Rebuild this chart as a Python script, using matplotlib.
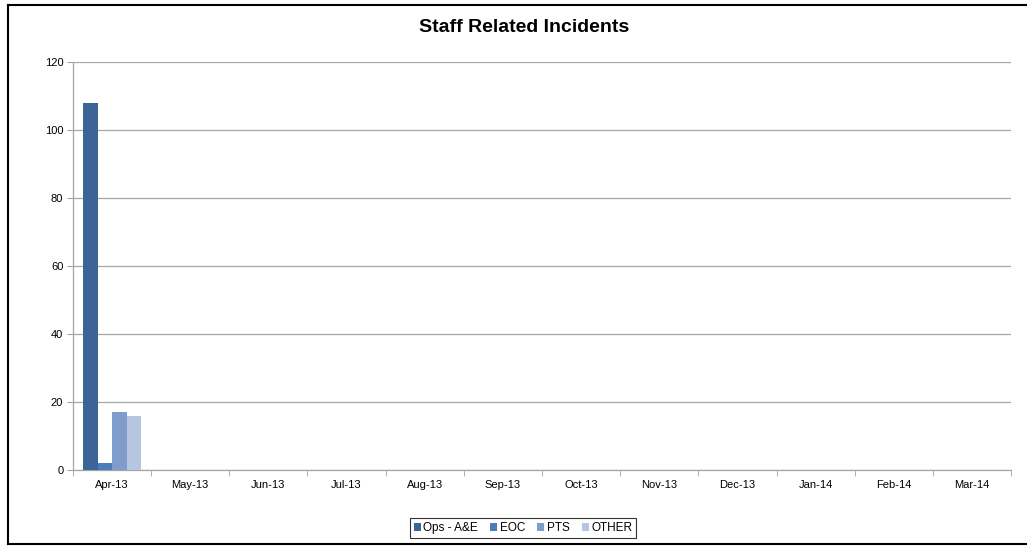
import matplotlib
matplotlib.use("Agg")
import matplotlib.pyplot as plt
import numpy as np
from matplotlib.lines import Line2D

plt.rcParams['font.family'] = ['Liberation Sans', 'DejaVu Sans']

months = ["Apr-13", "May-13", "Jun-13", "Jul-13", "Aug-13", "Sep-13",
          "Oct-13", "Nov-13", "Dec-13", "Jan-14", "Feb-14", "Mar-14"]
series_names = ["Ops - A&E", "EOC", "PTS", "OTHER"]
ops_ae = [108, 0, 0, 0, 0, 0, 0, 0, 0, 0, 0, 0]
eoc = [2, 0, 0, 0, 0, 0, 0, 0, 0, 0, 0, 0]
pts = [17, 0, 0, 0, 0, 0, 0, 0, 0, 0, 0, 0]
other = [16, 0, 0, 0, 0, 0, 0, 0, 0, 0, 0, 0]
yticks = [0, 20, 40, 60, 80, 100, 120]
colors = ["#3C6496", "#4A7EBB", "#7F9DCB", "#B6C5E1"]
title = "Staff Related Incidents"

fig = plt.figure(figsize=(10.27, 5.46), dpi=100)
ax = fig.add_axes([73/1027, 1-470/546, (1011-73)/1027, (470-62)/546])

x = np.arange(len(months))
n = len(series_names)
bw = 0.74 / n
for i, (name, vals) in enumerate(zip(series_names, [ops_ae, eoc, pts, other])):
    ax.bar(x - 0.37 + bw*(i+0.5), vals, width=bw, color=colors[i], label=name, zorder=3)

ax.set_xlim(-0.5, len(months)-0.5)
ax.set_ylim(0, 120)
ax.set_yticks(yticks)
ax.set_yticklabels([str(v) for v in yticks], fontsize=8)
ax.yaxis.grid(True, color="#A6A6A6", linewidth=0.9, zorder=0)
ax.set_xticks(x)
ax.set_xticklabels(months, fontsize=8)
ax.set_xticks(np.arange(len(months)+1) - 0.5, minor=True)
ax.tick_params(axis='x', which='major', length=0, pad=7)
ax.tick_params(axis='x', which='minor', length=4, color="#A6A6A6", direction='out')
ax.tick_params(axis='y', length=4, color="#A6A6A6", direction='out', pad=3)
for s in ["top", "right"]:
    ax.spines[s].set_visible(False)
for s in ["left", "bottom"]:
    ax.spines[s].set_color("#A6A6A6")
    ax.spines[s].set_linewidth(0.9)

fig.text(524/1027, 1-27/546, title, ha='center', va='center', fontsize=14, fontweight='bold')

leg = fig.legend(loc='center', bbox_to_anchor=(523/1027, 1-528/546), ncol=4, fontsize=8.5,
                 frameon=True, fancybox=False, handlelength=0.6, handleheight=0.6,
                 handletextpad=0.2, columnspacing=1.05, borderpad=0.3)
leg.get_frame().set_edgecolor("black")
leg.get_frame().set_linewidth(0.8)

# outer chart frame
fig.add_artist(Line2D([8/1027, 8/1027], [1-544/546, 1-5/546], color="black", linewidth=1.5, transform=fig.transFigure))
fig.add_artist(Line2D([8/1027, 1.0], [1-5/546, 1-5/546], color="black", linewidth=1.5, transform=fig.transFigure))
fig.add_artist(Line2D([8/1027, 1.0], [1-544/546, 1-544/546], color="black", linewidth=1.5, transform=fig.transFigure))

fig.savefig("out.png", dpi=100)
